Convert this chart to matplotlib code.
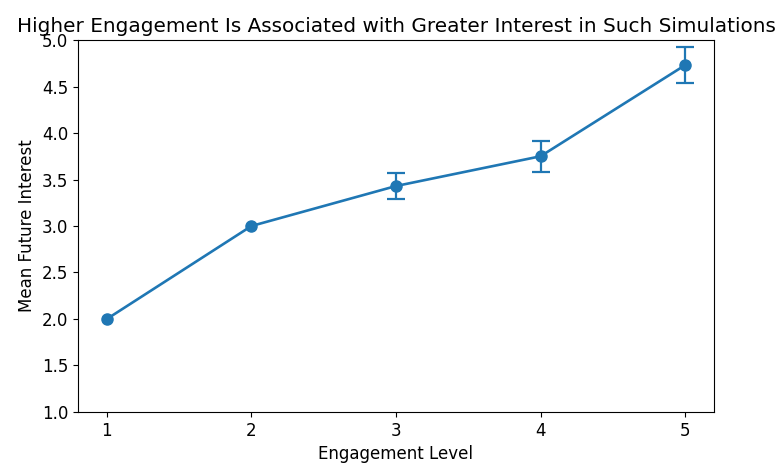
import matplotlib
matplotlib.use("Agg")
import numpy as np
import matplotlib.pyplot as plt

plt.rcParams["font.size"] = 12

engagement = [1, 2, 3, 4, 5]
mean_interest = [2.0, 3.0, 3.43, 3.75, 4.73]
# single-response levels have no spread, so no error bar is drawn there
sem_interest = [np.nan, np.nan, 0.135, 0.165, 0.195]

fig = plt.figure(figsize=(7.82, 4.66), dpi=100)
ax = fig.add_axes([0.0997, 0.116, 0.8133, 0.798])
ax.errorbar(engagement, mean_interest, yerr=sem_interest, fmt="-o",
            color="#1f77b4", capsize=6.2, markersize=8, linewidth=1.9,
            elinewidth=1.6, capthick=1.6)
ax.set_ylim(1.0, 5.0)
ax.set_xticks(engagement)
ax.set_xlabel("Engagement Level")
ax.set_ylabel("Mean Future Interest")
ax.set_title("Higher Engagement Is Associated with Greater Interest in Such Simulations")
fig.savefig("out.png", dpi=100)
